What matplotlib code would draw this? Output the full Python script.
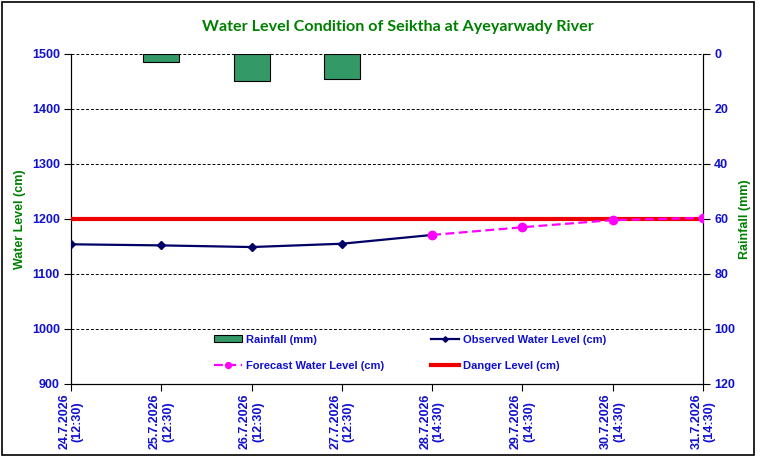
import matplotlib
matplotlib.use("Agg")
import matplotlib.pyplot as plt
from matplotlib.patches import Rectangle, Patch

# ── data ─────────────────────────────────────────────────────────
dates = ["24.7.2026\n(12:30)", "25.7.2026\n(12:30)", "26.7.2026\n(12:30)",
         "27.7.2026\n(12:30)", "28.7.2026\n(14:30)", "29.7.2026\n(14:30)",
         "30.7.2026\n(14:30)", "31.7.2026\n(14:30)"]
rainfall = [0, 3, 10, 9, 0, 0, 0, 0]
observed = [1154, 1152, 1149, 1155, 1171]
forecast = [1171, 1185, 1198, 1202]
danger = [1200] * len(dates)

BLUE = "#1010d0"
GREEN = "#008000"
BAR = "#339966"
FONT = "Liberation Sans"

plt.rcParams["font.family"] = FONT

fig = plt.figure(figsize=(7.62, 4.59), dpi=100)
ax = fig.add_axes([0.0932, 0.1634, 0.8294, 0.719])

x = list(range(len(dates)))

ax.plot(x, danger, color="#ee0000", lw=3, zorder=3, label="Danger Level (cm)")
ax.plot(x[:len(observed)], observed, color="#000066", lw=1.6, marker="D",
        ms=4, zorder=4, label="Observed Water Level (cm)")
ax.plot(x[len(observed) - 1:], forecast, color="#ff00ff", lw=1.6, ls=(0, (4, 2)),
        marker="o", ms=6, zorder=5, label="Forecast Water Level (cm)")

ax.set_xlim(0, len(dates) - 1)
ax.set_ylim(900, 1500)
ax.set_yticks(range(900, 1501, 100))
ax.set_xticks(x)
ax.set_xticklabels(dates, rotation=90, ha="center", va="top",
                   fontsize=9, fontweight="bold", color=BLUE, linespacing=1.15)
ax.grid(axis="y", color="black", ls=(0, (3, 2)), lw=0.7)
ax.set_axisbelow(True)
ax.spines["top"].set_visible(False)
ax.tick_params(axis="both", direction="out", length=5, color="black")
ax.tick_params(axis="x", pad=2)
ax.tick_params(axis="y", labelsize=9, labelcolor=BLUE, pad=3)
for t in ax.get_yticklabels():
    t.set_fontweight("bold")
ax.set_ylabel("Water Level (cm)", color=GREEN, fontsize=9, fontweight="bold", labelpad=4)

# rainfall on the right axis, hanging from the top
ax2 = ax.twinx()
bar_edges = ["black" if r > 0 else "none" for r in rainfall]
ax2.bar(x, rainfall, width=0.4, color=BAR, edgecolor=bar_edges, lw=0.8, zorder=2)
ax2.set_ylim(120, 0)
ax2.set_yticks(range(0, 121, 20))
ax2.spines["top"].set_visible(False)
ax2.tick_params(axis="y", direction="out", length=5, labelsize=9, labelcolor=BLUE, pad=3)
for t in ax2.get_yticklabels():
    t.set_fontweight("bold")
ax2.set_ylabel("Rainfall (mm)", color=GREEN, fontsize=9, fontweight="bold", labelpad=3)

# cyan background on the rainfall axis, water level lines drawn above it
ax2.patch.set_facecolor("#ccffff")
ax.patch.set_visible(False)
ax.set_zorder(2)
ax2.set_zorder(1)

h1, l1 = ax.get_legend_handles_labels()
rain_handle = Patch(facecolor=BAR, edgecolor="black", lw=0.8)
handles = [rain_handle, h1[2], h1[1], h1[0]]
labels = ["Rainfall (mm)", l1[2], l1[1], l1[0]]
leg = ax.legend(handles, labels, ncol=2, frameon=False,
                loc="upper left", bbox_to_anchor=(208 / 762, 1 - 329 / 459),
                bbox_transform=fig.transFigure,
                prop={"family": FONT, "weight": "bold", "size": 8},
                handlelength=2.6, handleheight=0.55, handletextpad=0.3,
                columnspacing=4.2, labelspacing=1.45, borderpad=0, markerscale=0.7)
for t in leg.get_texts():
    t.set_color(BLUE)

fig.text(0.5217, 1 - 27 / 459, "Water Level Condition of Seiktha at Ayeyarwady River",
         ha="center", va="center", color=GREEN, fontsize=11.6, fontweight="bold",
         family="Lato")

# outer chart frame
fig.patches.append(Rectangle((2 / 762, 4 / 459), 752 / 762, 453 / 459,
                             transform=fig.transFigure, fill=False,
                             edgecolor="black", lw=1.2))

fig.savefig("out.png", dpi=100, facecolor="white")
